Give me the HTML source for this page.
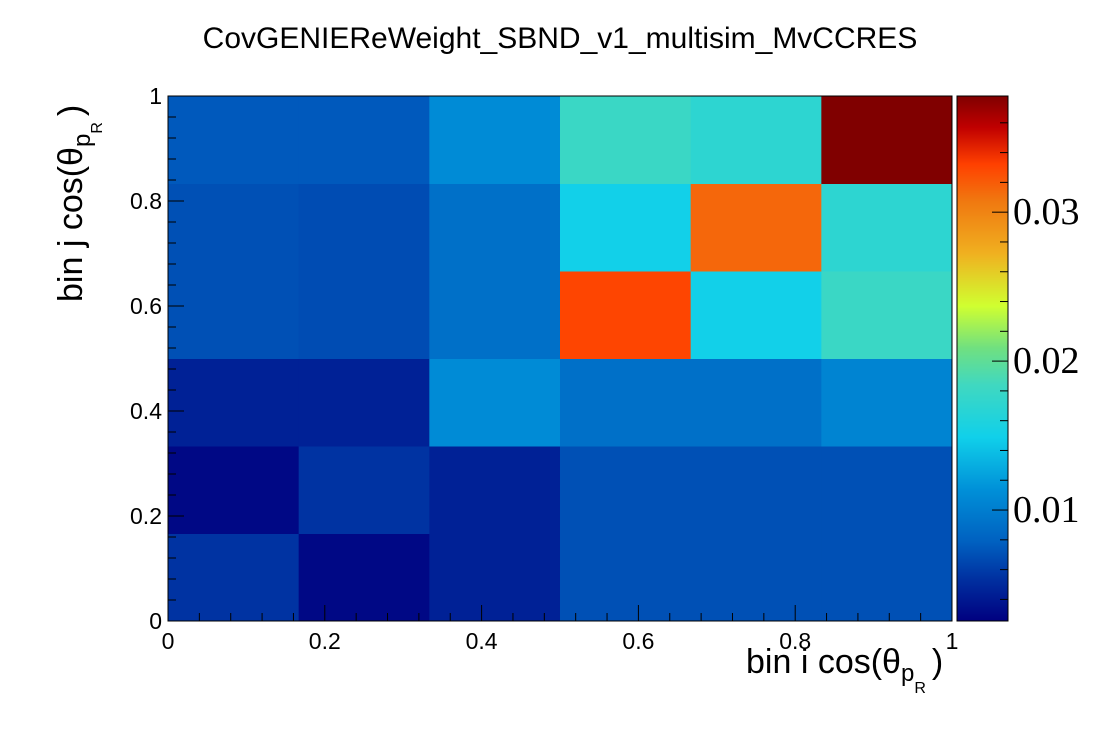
<!DOCTYPE html>
<html><head><meta charset="utf-8"><style>
body{margin:0;background:#fff}
svg{display:block}
</style></head><body>
<svg id="c" width="1120" height="740" xmlns="http://www.w3.org/2000/svg" font-family="Liberation Sans, sans-serif">
<text x="560" y="48" font-size="30" text-anchor="middle">CovGENIEReWeight_SBND_v1_multisim_MvCCRES</text>
<g id="cells"></g>
<g id="axes"></g>
<g id="cbar"></g>
<text x="746" y="673" font-size="34">bin i cos(θ<tspan font-size="24" dy="8">p</tspan><tspan font-size="16" dy="12">R</tspan><tspan font-size="34" dy="-20" dx="6">)</tspan></text>
<text transform="translate(82,302) rotate(-90)" font-size="34">bin j cos(θ<tspan font-size="24" dy="8">p</tspan><tspan font-size="16" dy="12">R</tspan><tspan font-size="34" dy="-20" dx="6">)</tspan></text>
</svg>
<script>
// values[j][i], j = row from bottom, i = column from left
const xEdges=[0,1/6,2/6,3/6,4/6,5/6,1];
const yEdges=[0,1/6,2/6,3/6,4/6,5/6,1];
const row0=[0.0055,0.0030,0.0045,0.0070,0.0070,0.0070];
const row1=[0.0030,0.0055,0.0045,0.0070,0.0070,0.0070];
const row2=[0.0045,0.0045,0.0110,0.0090,0.0090,0.0105];
const row3=[0.0070,0.0068,0.0090,0.0330,0.0150,0.0180];
const row4=[0.0070,0.0068,0.0090,0.0150,0.0315,0.0170];
const row5=[0.0075,0.0075,0.0110,0.0180,0.0170,0.0378];
const values=[row0,row1,row2,row3,row4,row5];
const xTicks=[0,0.2,0.4,0.6,0.8,1];
const xTickLabels=["0","0.2","0.4","0.6","0.8","1"];
const yTicks=[0,0.2,0.4,0.6,0.8,1];
const yTickLabels=["0","0.2","0.4","0.6","0.8","1"];
const zTicks=[0.01,0.02,0.03];
const zTickLabels=["0.01","0.02","0.03"];
const zMin=0.00255, zMax=0.0378;

const NS="http://www.w3.org/2000/svg";
const X0=168,X1=952,Y0=621,Y1=96;
const sx=v=>X0+v*(X1-X0);
const sy=v=>Y0-v*(Y0-Y1);
const sz=v=>Y0-(v-zMin)/(zMax-zMin)*(Y0-Y1);
const stops=[[0,"#000080"],[0.08,"#0030a0"],[0.15,"#0060c0"],[0.25,"#0090d8"],[0.35,"#10d0ea"],[0.45,"#40d8c0"],[0.52,"#70e080"],[0.6,"#d0ff30"],[0.7,"#f0b020"],[0.8,"#f07810"],[0.87,"#ff4000"],[0.94,"#c00000"],[1,"#800000"]];
function hex(h){return [1,3,5].map(k=>parseInt(h.substr(k,2),16));}
function cmap(t){t=Math.max(0,Math.min(1,t));
 for(let k=1;k<stops.length;k++){if(t<=stops[k][0]){const a=stops[k-1],b=stops[k];const f=(t-a[0])/(b[0]-a[0]);const ca=hex(a[1]),cb=hex(b[1]);return "rgb("+ca.map((c,m)=>Math.round(c+(cb[m]-c)*f)).join(",")+")";}}
 return stops[stops.length-1][1];}
function el(tag,attrs,parent){const e=document.createElementNS(NS,tag);for(const k in attrs)e.setAttribute(k,attrs[k]);parent.appendChild(e);return e;}
const cells=document.getElementById('cells');
values.forEach((row,j)=>row.forEach((v,i)=>{
 const r=el('rect',{x:sx(xEdges[i]),y:sy(yEdges[j+1]),width:sx(xEdges[i+1])-sx(xEdges[i])+0.5,height:sy(yEdges[j])-sy(yEdges[j+1])+0.5,fill:cmap((v-zMin)/(zMax-zMin))},cells);
 
 
}));
const ax=document.getElementById('axes');
el('rect',{x:X0,y:Y1,width:X1-X0,height:Y0-Y1,fill:'none',stroke:'#000','stroke-width':1},ax);
for(let k=0;k<=25;k++){const v=k*0.04;const L=(k%5==0)?16:8;
 el('line',{x1:sx(v),x2:sx(v),y1:Y0,y2:Y0-L,stroke:'#000'},ax);
 el('line',{x1:X0,x2:X0+L,y1:sy(v),y2:sy(v),stroke:'#000'},ax);}
xTicks.forEach((v,k)=>{const t=el('text',{x:sx(v),y:649,'font-size':23,'text-anchor':'middle'},ax);t.textContent=xTickLabels[k];
 
 });
yTicks.forEach((v,k)=>{const t=el('text',{x:162,y:sy(v)+8,'font-size':23,'text-anchor':'end'},ax);t.textContent=yTickLabels[k];
 
 });
const cb=document.getElementById('cbar');
const CX0=957,CX1=1008;
for(let p=Y1;p<Y0;p++){const t=(Y0-p-0.5)/(Y0-Y1);el('rect',{x:CX0,y:p,width:CX1-CX0,height:1.2,fill:cmap(t)},cb);}
el('rect',{x:CX0,y:Y1,width:CX1-CX0,height:Y0-Y1,fill:'none',stroke:'#000'},cb);
for(let v=0.004;v<zMax;v+=0.002){const y=sz(v);const major=Math.abs(v*100-Math.round(v*100))<1e-6;
 el('line',{x1:CX1,x2:CX1-(major?16:8),y1:y,y2:y,stroke:'#000'},cb);}
zTicks.forEach((v,k)=>{const t=el('text',{x:1013,y:sz(v)+12,'font-size':38,'font-family':'Liberation Serif, serif'},cb);t.textContent=zTickLabels[k];
 
 });
</script>
</body></html>
